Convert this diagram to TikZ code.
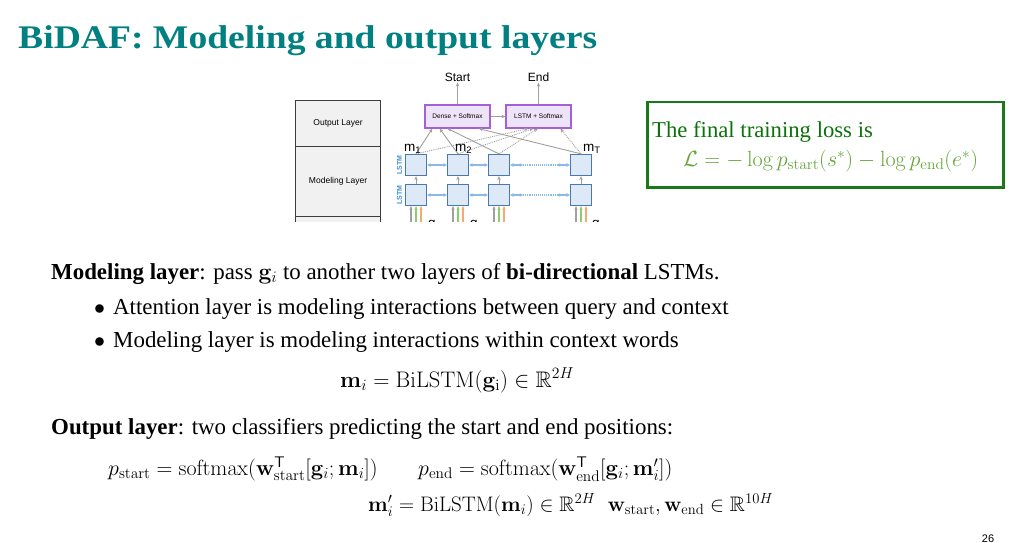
\RequirePackage{fix-cm}
\documentclass[tikz,border=0pt]{standalone}
\usepackage[no-math]{fontspec}
\usepackage{amsmath,amssymb}
\setmainfont{Liberation Serif}
\newfontfamily\titlefont[FakeStretch=1.14]{Liberation Serif}
\newfontfamily\diagfont{Liberation Sans}
\usetikzlibrary{arrows.meta,calc}
\definecolor{titlecol}{RGB}{0,128,128}
\definecolor{boxgreen}{RGB}{25,120,25}
\definecolor{textgreen}{RGB}{10,115,10}
\definecolor{formgreen}{RGB}{100,165,55}
\definecolor{purpleedge}{RGB}{165,95,215}
\definecolor{purplefill}{RGB}{238,228,250}
\definecolor{celledge}{RGB}{75,120,172}
\definecolor{cellfill}{RGB}{221,233,246}
\definecolor{lblue}{RGB}{140,186,232}
\definecolor{lstmblue}{RGB}{60,145,215}
\definecolor{arrgray}{RGB}{160,160,160}
\definecolor{arrgreen}{RGB}{140,205,110}
\definecolor{arrorange}{RGB}{245,170,115}
\definecolor{stackfill}{RGB}{241,241,241}
\definecolor{stackedge}{RGB}{60,60,60}
\begin{document}
\begin{tikzpicture}[x=1pt,y=-1pt,
  cell/.style={draw=celledge, fill=cellfill, line width=1.3pt, minimum width=21pt, minimum height=21pt, inner sep=0pt},
  smbox/.style={draw=purpleedge, fill=purplefill, line width=1.2pt, minimum width=65pt, minimum height=23pt, inner sep=0pt, font=\diagfont\fontsize{6.5}{7}\selectfont},
  stackbox/.style={draw=stackedge, fill=stackfill, line width=1.1pt, minimum width=85pt, inner sep=0pt, font=\diagfont\fontsize{8.5}{10}\selectfont},
  garrow/.style={draw=arrgray, line width=0.9pt, -{Stealth[length=4pt,width=3.4pt]}},
  garrowd/.style={garrow, densely dotted},
  barrow/.style={draw=lblue, line width=1.1pt, {Stealth[length=3.5pt,width=3.8pt]}-{Stealth[length=3.5pt,width=3.8pt]}},
  inarrow/.style={line width=1.1pt, -{Stealth[length=3.5pt,width=3.2pt]}},
  lstmlab/.style={rotate=90, text=lstmblue, font=\diagfont\bfseries\fontsize{7}{8}\selectfont, inner sep=0pt},
  dlab/.style={font=\diagfont\fontsize{12}{14}\selectfont, inner sep=1pt},
  mlab/.style={anchor=base west, font=\diagfont\fontsize{13.5}{14}\selectfont, inner sep=0pt},
  bodytext/.style={anchor=base west, inner sep=0pt, font=\fontsize{22.9}{26}\selectfont},
  eqtext/.style={anchor=base west, inner sep=0pt, font=\fontsize{22}{26}\selectfont}
]
\useasboundingbox (0,0) rectangle (1010,543);
\fill[white] (0,0) rectangle (1010,543);

% title
\node[anchor=base west, inner sep=0pt, text=titlecol, font=\titlefont\fontsize{33}{36}\selectfont\bfseries] (title) at (18,49) {BiDAF: Modeling and output layers};

% diagram
\begin{scope}
\clip (280,60) rectangle (620,221);
\node[stackbox, minimum height=46pt, anchor=north west] (outl) at (295,100) {Output Layer};
\node[stackbox, minimum height=70pt, anchor=north west] (modl) at (295,146) {Modeling Layer};
\node[stackbox, minimum height=40pt, anchor=north west] (nextl) at (295,216) {};

\node[smbox] (dense) at (457.5,116.5) {Dense + Softmax};
\node[smbox] (lsm) at (538.5,116.5) {LSTM + Softmax};
\node[dlab] (start) at (457.5,77) {Start};
\node[dlab] (end) at (538.5,77) {End};
\draw[garrow] (dense.north) -- (start.south);
\draw[garrow] (lsm.north) -- (end.south);
\draw[garrow] (dense.east) -- (lsm.west);

\foreach \i/\x in {1/416,2/458,3/499,4/581}{
  \node[cell] (t\i) at (\x,165) {};
  \node[cell] (b\i) at (\x,195) {};
  \draw[garrow] (b\i.north) -- (t\i.south);
  \draw[inarrow, draw=arrgray] ($(b\i.south)+(-5,20)$) -- ($(b\i.south)+(-5,0)$);
  \draw[inarrow, draw=arrgreen] ($(b\i.south)+(0,20)$) -- (b\i.south);
  \draw[inarrow, draw=arrorange] ($(b\i.south)+(5,20)$) -- ($(b\i.south)+(5,0)$);
}
\node[lstmlab] (l1) at (399.5,165) {LSTM};
\node[lstmlab] (l2) at (399.5,195) {LSTM};

\foreach \r in {t,b}{
  \draw[barrow] (\r1.east) -- (\r2.west);
  \draw[barrow] (\r2.east) -- (\r3.west);
  \draw[barrow] (\r3.east) -- ($(\r3.east)+(13,0)$);
  \draw[lblue, line width=1.1pt, densely dotted] ($(\r3.east)+(13,0)$) -- ($(\r4.west)+(-13,0)$);
  \draw[barrow] ($(\r4.west)+(-13,0)$) -- (\r4.west);
}

% outputs of modeling layer
\draw[garrow] (t1.north) -- ($(dense.south west)!0.12!(dense.south east)$);
\draw[garrow] (t2.north) -- ($(dense.south west)!0.23!(dense.south east)$);
\draw[garrow] (t3.north) -- ($(dense.south west)!0.35!(dense.south east)$);
\draw[garrow] (t4.north) -- ($(dense.south west)!0.82!(dense.south east)$);
\draw[garrowd] (t1.north) -- ($(lsm.south west)!0.34!(lsm.south east)$);
\draw[garrowd] (t2.north) -- ($(lsm.south west)!0.42!(lsm.south east)$);
\draw[garrowd] (t3.north) -- ($(lsm.south west)!0.49!(lsm.south east)$);
\draw[garrowd] (t4.north) -- ($(lsm.south west)!0.83!(lsm.south east)$);

\node[mlab] (m1) at (404,151) {m\textsubscript{1}};
\node[mlab] (m2) at (455,151) {m\textsubscript{2}};
\node[mlab] (mT) at (583,151) {m\textsubscript{T}};
\node[mlab] (g1) at (428,227) {g\textsubscript{1}};
\node[mlab] (g2) at (470,227) {g\textsubscript{2}};
\node[mlab] (gT) at (592,227) {g\textsubscript{T}};
\end{scope}

% green box
\node[draw=boxgreen, line width=2.5pt, minimum width=356pt, minimum height=85pt, anchor=north west, inner sep=0pt] (lossbox) at (646,101) {};
\node[anchor=base west, inner sep=0pt, text=textgreen, font=\fontsize{22.7}{26}\selectfont] (losstxt) at (652,137) {The final training loss is};
\node[anchor=base west, inner sep=0pt, text=formgreen, font=\fontsize{22}{26}\selectfont] (lossform) at (683,166) {$\mathcal{L} = -\log p_{\mathrm{start}}(s^*) - \log p_{\mathrm{end}}(e^*)$};

% body
\node[bodytext] (l1txt) at (51,279) {\textbf{Modeling layer}: pass $\mathbf{g}_i$ to another two layers of \textbf{bi-directional} LSTMs.};
\node[anchor=base west, inner sep=0pt, font=\fontsize{22}{26}\selectfont] (bul1) at (94,314) {$\bullet$};
\node[bodytext] (b1txt) at (113,314) {Attention layer is modeling interactions between query and context};
\node[anchor=base west, inner sep=0pt, font=\fontsize{22}{26}\selectfont] (bul2) at (94,347) {$\bullet$};
\node[bodytext] (b2txt) at (113,347) {Modeling layer is modeling interactions within context words};
\node[eqtext, font=\fontsize{22.5}{26}\selectfont] (eq1) at (340,387) {$\mathbf{m}_i = \mathrm{BiLSTM}(\mathbf{g}_\mathrm{i}) \in \mathbb{R}^{2H}$};

\node[bodytext] (outtxt) at (51,434) {\textbf{Output layer}: two classifiers predicting the start and end positions:};
\node[eqtext] (eq2) at (108,475) {$p_{\mathrm{start}} = \mathrm{softmax}(\mathbf{w}^{\mathsf{T}}_{\mathrm{start}}[\mathbf{g}_i;\mathbf{m}_i])$};
\node[eqtext] (eq3) at (418,475) {$p_{\mathrm{end}} = \mathrm{softmax}(\mathbf{w}^{\mathsf{T}}_{\mathrm{end}}[\mathbf{g}_i;\mathbf{m}'_i])$};
\node[eqtext, font=\fontsize{21}{25}\selectfont] (eq4) at (368,511) {$\mathbf{m}'_i = \mathrm{BiLSTM}(\mathbf{m}_i) \in \mathbb{R}^{2H}\hspace{0.6em} \mathbf{w}_{\mathrm{start}}, \mathbf{w}_{\mathrm{end}} \in \mathbb{R}^{10H}$};

\node[anchor=base, inner sep=0pt, font=\diagfont\fontsize{11}{12}\selectfont] (pnum) at (988,542) {26};
\end{tikzpicture}
\end{document}
